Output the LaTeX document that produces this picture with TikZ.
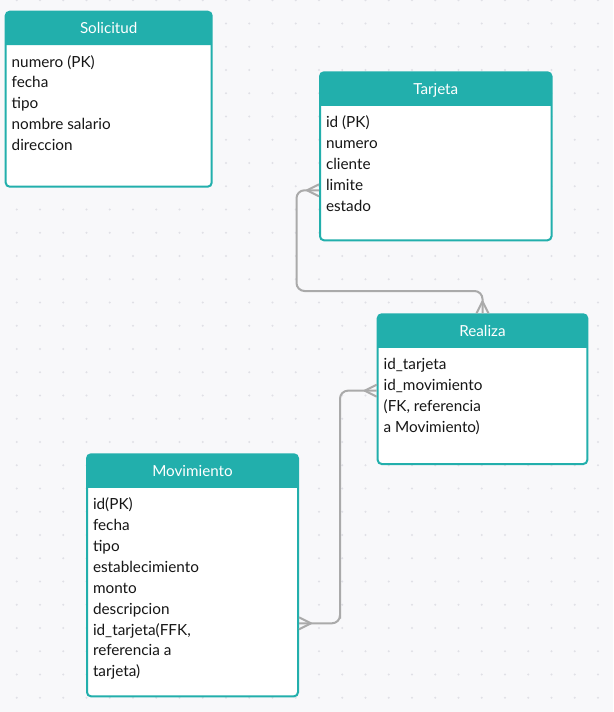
\documentclass[tikz,border=0pt]{standalone}
\usepackage{fontspec}
\setmainfont{Lato}
\usetikzlibrary{calc}

\definecolor{canvas}{RGB}{248,248,250}
\definecolor{gridpt}{RGB}{224,224,230}
\definecolor{teal}{RGB}{34,175,172}
\definecolor{link}{RGB}{170,170,170}
\definecolor{ink}{RGB}{22,22,22}

\tikzset{
  tbl/.style={rectangle, draw=teal, fill=white, line width=2pt,
    rounded corners=4pt, inner sep=0pt, outer sep=0pt, anchor=north west},
  head/.style={fill=teal},
  title/.style={text=white, font=\fontsize{15.2}{18}\selectfont, inner sep=0pt, anchor=base},
  field/.style={text=ink, font=\fontsize{15.3}{18}\selectfont, inner sep=0pt, anchor=base west},
  conn/.style={draw=link, line width=2pt, rounded corners=8pt},
  prong/.style={draw=link, line width=2pt, line join=round},
}

% table: name, left, top, width, height, title
\newcommand\erbox[6]{%
  \node[tbl, minimum width=#4pt, minimum height=#5pt] (#1) at (#2,#3) {};
  \fill[head] ([yshift=-33.5pt]#1.north west) [rounded corners=4pt]
    -- (#1.north west) -- (#1.north east) [sharp corners]
    -- ([yshift=-33.5pt]#1.north east) -- cycle;
  \node[title] (#1-t) at ([yshift=-22pt]#1.north) {#6};
}
% field rows of a table
\newcommand\erfields[2]{%
  \foreach \f [count=\i from 0] in {#2} {
    \node[field] (#1-f\i) at ([xshift=5.8pt,yshift={-55.3pt-\i*20.9pt}]#1.north west) {\f};
  }
}
% crow's foot at point #1: apex offset (#2,#3), half spread (#4,#5)
\newcommand\crowfoot[5]{%
  \draw[prong] ($(#1)+(#4,#5)$) -- ($(#1)+(#2,#3)$) -- ($(#1)-(#4,#5)$);
}

\begin{document}
\begin{tikzpicture}[x=1pt,y=-1pt]
  \useasboundingbox (0,0) rectangle (613,712);
  \fill[canvas] (0,0) rectangle (613,712);
  \foreach \i in {0,...,25}
    \foreach \j in {0,...,30}
      \fill[gridpt] (16.7+\i*23.25, 0.25+\j*23.25) circle (1.1pt);

  % tables
  \erbox{solicitud}{5.7}{11.7}{206}{175}{Solicitud}
  \erbox{tarjeta}{320}{72.3}{231.5}{168}{Tarjeta}
  \erbox{realiza}{377.7}{314.3}{209.6}{149.7}{Realiza}
  \erbox{movimiento}{87}{454.3}{211}{242}{Movimiento}

  \erfields{solicitud}{numero (PK), fecha, tipo, nombre salario, direccion}
  \erfields{tarjeta}{id (PK), numero, cliente, limite, estado}
  \erfields{realiza}{id\_tarjeta, id\_movimiento, {(FK, referencia}, a Movimiento)}
  \erfields{movimiento}{id(PK), fecha, tipo, establecimiento, monto, descripcion,
    {id\_tarjeta(FFK,}, referencia a, tarjeta)}

  % relationship links
  \coordinate (tj-end) at ([yshift=-34pt,xshift=-1pt]tarjeta.west);
  \coordinate (re-top) at ([yshift=1pt]realiza.north);
  \coordinate (re-left) at ([yshift=-1.5pt,xshift=-1pt]realiza.west);
  \coordinate (mv-end) at ([yshift=-48pt,xshift=1pt]movimiento.east);

  \draw[conn] (tj-end) -| (296.5,291) -| (re-top);
  \draw[conn] (re-left) -| (340,623.3) |- (mv-end);

  \crowfoot{tj-end}{-12}{0}{0}{6}
  \crowfoot{re-top}{0}{-12}{6}{0}
  \crowfoot{re-left}{-12}{0}{0}{6}
  \crowfoot{mv-end}{12}{0}{0}{6}
\end{tikzpicture}
\end{document}
